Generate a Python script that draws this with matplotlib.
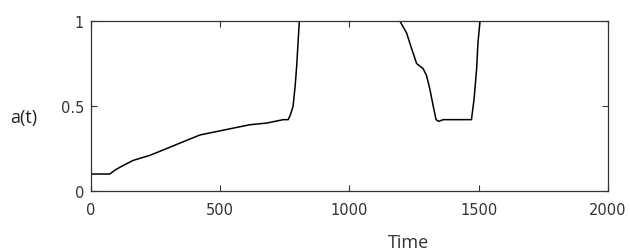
import numpy as np
import matplotlib.pyplot as plt

# a(t) trace
t = [0, 0, 73, 90, 112, 163, 228, 293, 357, 422, 486, 550, 615, 680, 744, 763,
     772, 782, 790, 796, 806, 1195, 1221, 1240, 1260, 1285, 1298, 1311, 1324,
     1335, 1345, 1363, 1472, 1482, 1492, 1497, 1505, 2000]
a = [0.25, 0.10, 0.10, 0.12, 0.14, 0.18, 0.21, 0.25, 0.29, 0.33, 0.35, 0.37,
     0.39, 0.40, 0.42, 0.42, 0.45, 0.50, 0.62, 0.74, 1.0, 1.0, 0.93, 0.84, 0.75,
     0.72, 0.68, 0.60, 0.50, 0.42, 0.41, 0.42, 0.42, 0.54, 0.72, 0.87, 1.0, 1.0]

xticks = [0, 500, 1000, 1500, 2000]
yticks = [0, 0.5, 1]

plt.rcParams['font.family'] = ['Open Sans', 'DejaVu Sans']

fig = plt.figure(figsize=(6.3, 2.51), dpi=100)
ax = fig.add_axes([0.1444, 0.235, 0.8206, 0.677])
ax.plot(t, a, color='black', lw=1.1)

ax.set_xlim(0, 2000)
ax.set_ylim(0, 1)
ax.set_xticks(xticks)
ax.set_yticks(yticks)
ax.set_yticklabels(['0', '0.5', '1'])
ax.tick_params(direction='in', top=True, right=True, length=4, width=0.8,
               labelsize=10.5, labelcolor='#333333', colors='#333333', pad=5)
ax.tick_params(axis='x', pad=8)
for lab in ax.get_xticklabels() + ax.get_yticklabels():
    lab.set_family('DejaVu Sans')
for s in ax.spines.values():
    s.set_linewidth(0.9)
    s.set_color('#333333')

ax.set_xlabel('Time', fontsize=13, color='#333333')
ax.xaxis.set_label_coords(0.615, -0.25)
ax.set_ylabel('a(t)', fontsize=13, color='#222222', rotation=0,
              va='center', ha='center')
ax.yaxis.set_label_coords(-0.13, 0.435)

fig.savefig('out.png', dpi=100)
